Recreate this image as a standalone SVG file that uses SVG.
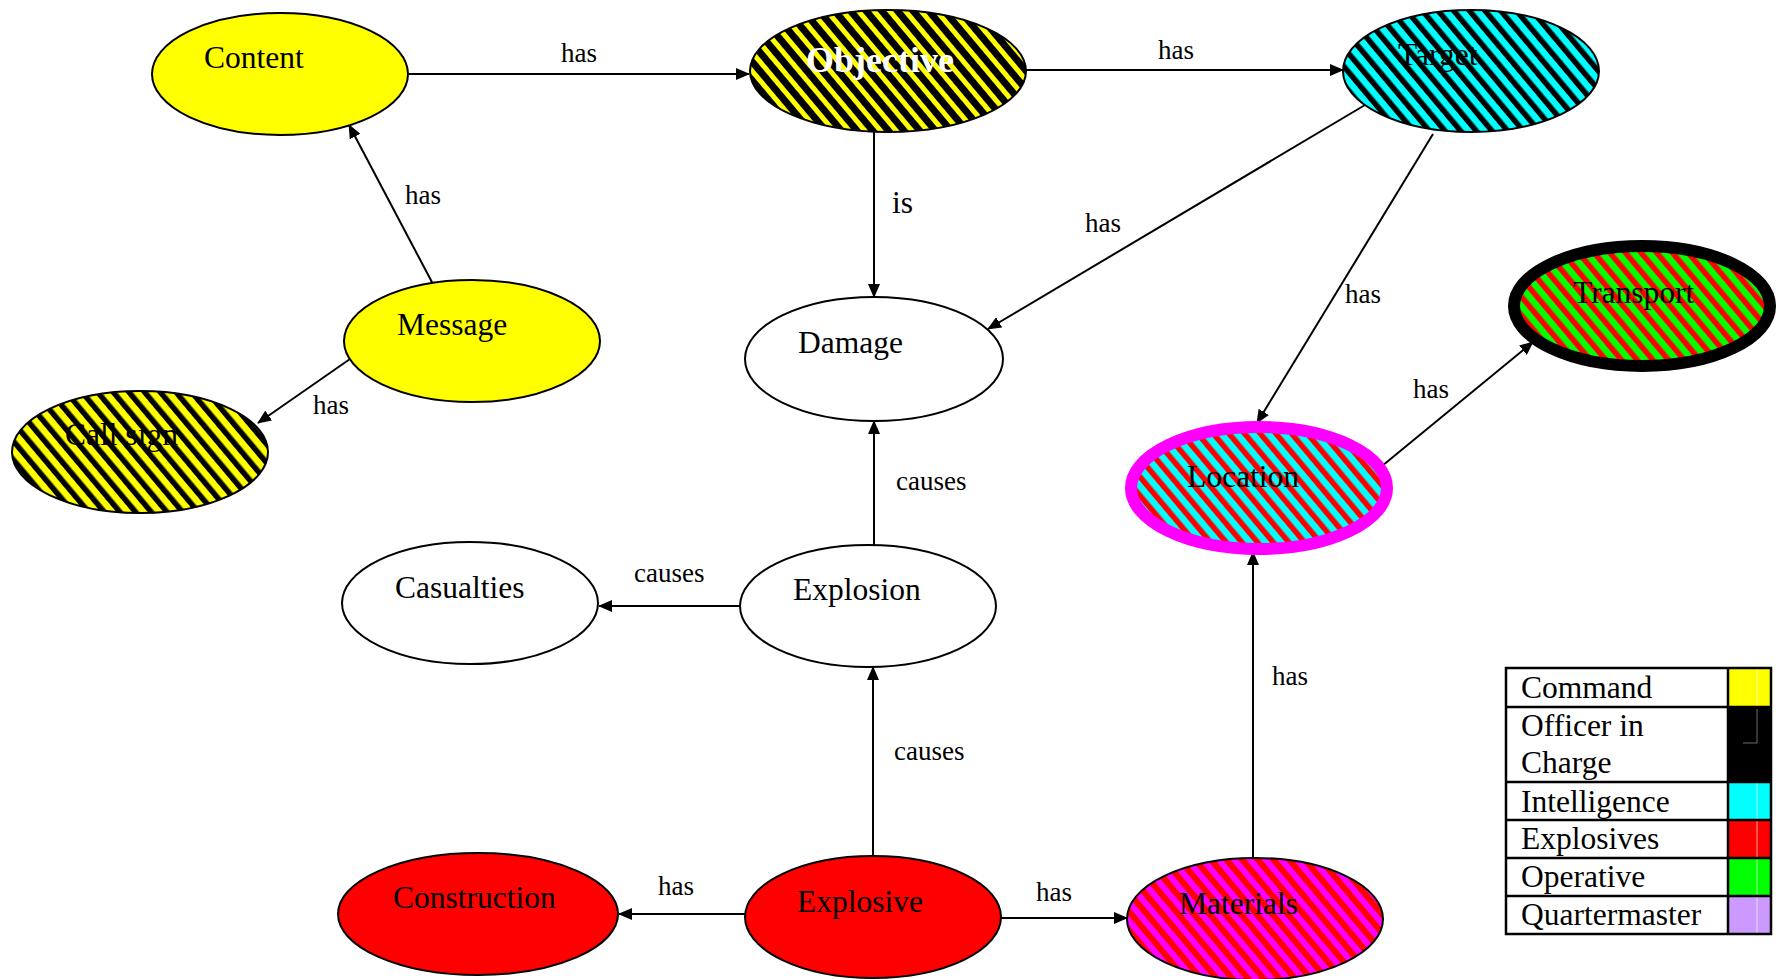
<svg xmlns="http://www.w3.org/2000/svg" width="1778" height="979" viewBox="0 0 1778 979">
  <style>
    .node { stroke: #000; stroke-width: 2; }
    .lbl { font-family: "Liberation Serif", "Times New Roman", serif; font-size: 31.5px; fill: #000; }
    .elbl { font-family: "Liberation Serif", "Times New Roman", serif; font-size: 27px; fill: #000; }
    .edge { stroke: #000; stroke-width: 2; fill: none; marker-end: url(#arrow); }
    .grid { stroke: #000; stroke-width: 2.5; fill: none; }
  </style>
  <defs>
    <marker id="arrow" markerWidth="14" markerHeight="12" refX="13" refY="6" orient="auto" markerUnits="userSpaceOnUse">
      <path d="M0,0 L14,6 L0,12 z" fill="#000"/>
    </marker>
    <!-- diagonal two-colour hatch fills -->
    <pattern id="hatch-ok" width="12" height="12" patternUnits="userSpaceOnUse" patternTransform="rotate(-40)">
      <rect width="12" height="12" fill="#000"/><rect width="5" height="12" fill="#ff0"/>
    </pattern>
    <pattern id="hatch-ck" width="12" height="12" patternUnits="userSpaceOnUse" patternTransform="rotate(-40)">
      <rect width="12" height="12" fill="#0ff"/><rect width="5.5" height="12" fill="#000"/>
    </pattern>
    <pattern id="hatch-yk" width="12" height="12" patternUnits="userSpaceOnUse" patternTransform="rotate(-40)">
      <rect width="12" height="12" fill="#ff0"/><rect width="5.5" height="12" fill="#000"/>
    </pattern>
    <pattern id="hatch-gr" width="12" height="12" patternUnits="userSpaceOnUse" patternTransform="rotate(-40)">
      <rect width="12" height="12" fill="#0f0"/><rect width="5.5" height="12" fill="#f00"/>
    </pattern>
    <pattern id="hatch-cr" width="12" height="12" patternUnits="userSpaceOnUse" patternTransform="rotate(-40)">
      <rect width="12" height="12" fill="#0ff"/><rect width="5.5" height="12" fill="#f00"/>
    </pattern>
    <pattern id="hatch-mr" width="12" height="12" patternUnits="userSpaceOnUse" patternTransform="rotate(-40)">
      <rect width="12" height="12" fill="#f0f"/><rect width="6" height="12" fill="#f00"/>
    </pattern>
  </defs>

  <rect width="1778" height="979" fill="#fff"/>

  <g id="connectors">
    <line class="edge" x1="408" y1="74" x2="749" y2="74"/>
    <line class="edge" x1="1005" y1="70" x2="1343" y2="70"/>
    <line class="edge" x1="874" y1="132" x2="874" y2="297"/>
    <line class="edge" x1="1365" y1="105" x2="988" y2="329"/>
    <line class="edge" x1="1433" y1="134" x2="1257" y2="423"/>
    <line class="edge" x1="1382" y1="466" x2="1533" y2="342"/>
    <line class="edge" x1="434" y1="286" x2="349" y2="125"/>
    <line class="edge" x1="350" y1="359" x2="258" y2="423"/>
    <line class="edge" x1="874" y1="545" x2="874" y2="421"/>
    <line class="edge" x1="740" y1="606" x2="599" y2="606"/>
    <line class="edge" x1="873" y1="856" x2="873" y2="667"/>
    <line class="edge" x1="745" y1="914" x2="619" y2="914"/>
    <line class="edge" x1="1001" y1="918" x2="1127" y2="918"/>
    <line class="edge" x1="1253" y1="858" x2="1253" y2="552"/>

    <text class="elbl" x="561" y="62">has</text>
    <text class="elbl" x="1158" y="59">has</text>
    <text class="lbl" x="892" y="213">is</text>
    <text class="elbl" x="1085" y="232">has</text>
    <text class="elbl" x="1345" y="303">has</text>
    <text class="elbl" x="1413" y="398">has</text>
    <text class="elbl" x="405" y="204">has</text>
    <text class="elbl" x="313" y="414">has</text>
    <text class="elbl" x="896" y="490">causes</text>
    <text class="elbl" x="634" y="582">causes</text>
    <text class="elbl" x="894" y="760">causes</text>
    <text class="elbl" x="658" y="895">has</text>
    <text class="elbl" x="1036" y="901">has</text>
    <text class="elbl" x="1272" y="685">has</text>
  </g>

  <g id="content">
    <ellipse class="node" cx="280" cy="74" rx="128" ry="61" fill="#ff0"/>
    <text class="lbl" x="204" y="68">Content</text>
  </g>
  <g id="objective">
    <ellipse class="node" cx="888" cy="71" rx="138" ry="61" fill="url(#hatch-ok)"/>
    <text class="lbl" x="806" y="72" style="font-size:36px;font-weight:bold;fill:#fff">Objective</text>
  </g>
  <g id="target">
    <ellipse class="node" cx="1471" cy="71" rx="128" ry="61" fill="url(#hatch-ck)"/>
    <text class="lbl" x="1398" y="65">Target</text>
  </g>
  <g id="message">
    <ellipse class="node" cx="472" cy="341" rx="128" ry="61" fill="#ff0"/>
    <text class="lbl" x="397" y="335">Message</text>
  </g>
  <g id="call-sign">
    <ellipse class="node" cx="140" cy="452" rx="128" ry="61" fill="url(#hatch-yk)"/>
    <text class="lbl" x="65" y="445">Call sign</text>
  </g>
  <g id="damage">
    <ellipse class="node" cx="874" cy="359" rx="129" ry="62" fill="#fff"/>
    <text class="lbl" x="798" y="353">Damage</text>
  </g>
  <g id="transport">
    <ellipse cx="1642" cy="306" rx="128" ry="60" fill="url(#hatch-gr)" stroke="#000" stroke-width="12"/>
    <text class="lbl" x="1573" y="303">Transport</text>
  </g>
  <g id="location">
    <ellipse cx="1259" cy="488" rx="128" ry="61" fill="url(#hatch-cr)" stroke="#f0f" stroke-width="12"/>
    <text class="lbl" x="1187" y="487">Location</text>
  </g>
  <g id="casualties">
    <ellipse class="node" cx="470" cy="603" rx="128" ry="61" fill="#fff"/>
    <text class="lbl" x="395" y="598">Casualties</text>
  </g>
  <g id="explosion">
    <ellipse class="node" cx="868" cy="606" rx="128" ry="61" fill="#fff"/>
    <text class="lbl" x="793" y="600">Explosion</text>
  </g>
  <g id="construction">
    <ellipse class="node" cx="478" cy="914" rx="140" ry="61" fill="#f00"/>
    <text class="lbl" x="393" y="908">Construction</text>
  </g>
  <g id="explosive">
    <ellipse class="node" cx="873" cy="917" rx="128" ry="61" fill="#f00"/>
    <text class="lbl" x="797" y="912">Explosive</text>
  </g>
  <g id="materials">
    <ellipse class="node" cx="1255" cy="919" rx="128" ry="61" fill="url(#hatch-mr)"/>
    <text class="lbl" x="1179" y="914">Materials</text>
  </g>

  <g id="legend">
    <rect x="1728" y="668" width="43" height="39" fill="#ff0"/>
    <rect x="1728" y="707" width="43" height="75" fill="#000"/>
    <rect x="1728" y="782" width="43" height="38" fill="#0ff"/>
    <rect x="1728" y="820" width="43" height="38" fill="#f00"/>
    <rect x="1728" y="858" width="43" height="38" fill="#0f0"/>
    <rect x="1728" y="896" width="43" height="38" fill="#c9f"/>
    <g stroke="#fff" stroke-width="0.8" opacity="0.8">
      <line x1="1757" y1="668" x2="1757" y2="707"/>
      <line x1="1757" y1="782" x2="1757" y2="934"/>
    </g>
    <path d="M1757,709 V743 H1743" fill="none" stroke="#888" stroke-width="0.8"/>
    <rect class="grid" x="1506" y="668" width="265" height="266"/>
    <line class="grid" x1="1728" y1="668" x2="1728" y2="934"/>
    <line class="grid" x1="1506" y1="707" x2="1771" y2="707"/>
    <line class="grid" x1="1506" y1="782" x2="1771" y2="782"/>
    <line class="grid" x1="1506" y1="820" x2="1771" y2="820"/>
    <line class="grid" x1="1506" y1="858" x2="1771" y2="858"/>
    <line class="grid" x1="1506" y1="896" x2="1771" y2="896"/>
    <text class="lbl" x="1521" y="698">Command</text>
    <text class="lbl" x="1521" y="736">Officer in</text>
    <text class="lbl" x="1521" y="773">Charge</text>
    <text class="lbl" x="1521" y="812">Intelligence</text>
    <text class="lbl" x="1521" y="849">Explosives</text>
    <text class="lbl" x="1521" y="887">Operative</text>
    <text class="lbl" x="1521" y="925">Quartermaster</text>
  </g>
</svg>
